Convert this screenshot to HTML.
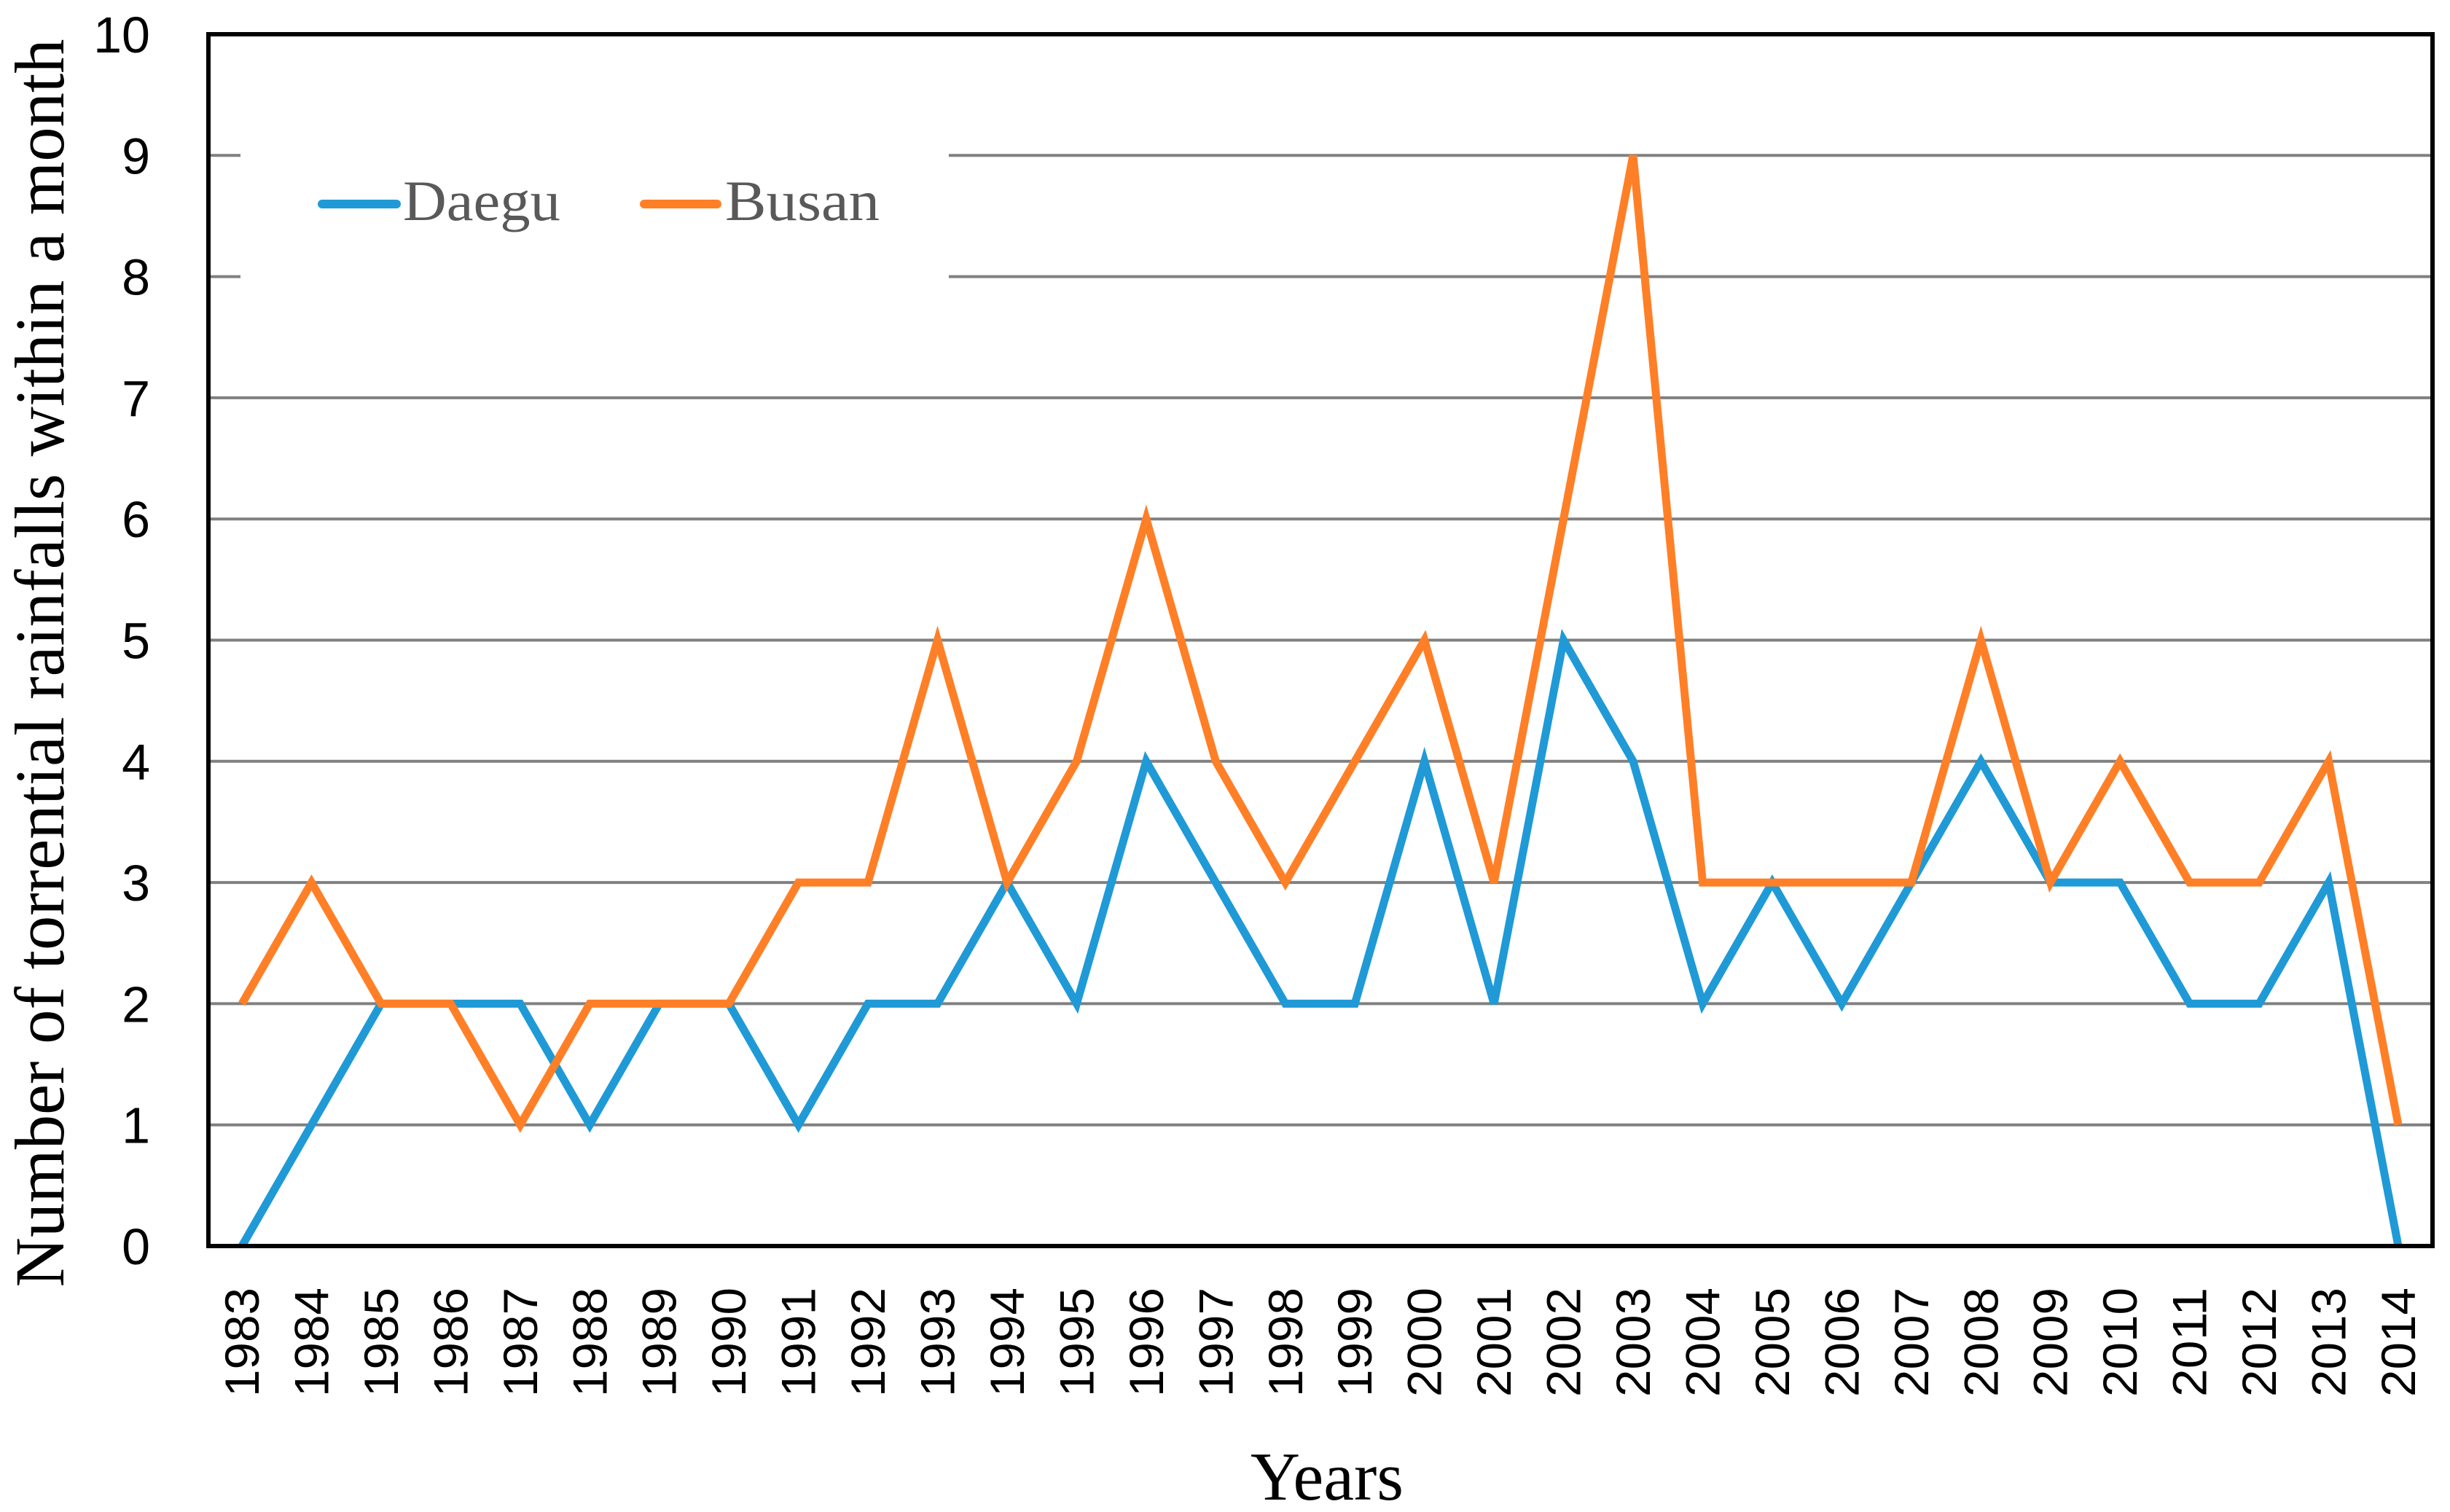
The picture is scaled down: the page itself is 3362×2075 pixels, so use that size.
<!DOCTYPE html>
<html><head><meta charset="utf-8"><style>
html,body{margin:0;padding:0;background:#fff;}
svg{display:block;}
</style></head><body>
<svg id="chart" width="3362" height="2075" viewBox="0 0 3362 2075" xmlns="http://www.w3.org/2000/svg">
<rect x="0" y="0" width="3362" height="2075" fill="#fff"/>
<g id="grid"></g>
<rect x="330" y="150" width="972" height="260" fill="#fff"/>
<g id="series"></g>
<rect x="286" y="47" width="3052" height="1663" fill="none" stroke="#000" stroke-width="6"/>
<g id="yticks"></g>
<g id="xticks"></g>
<text x="87" y="910" transform="rotate(-90 87 910)" text-anchor="middle" font-family="Liberation Serif, serif" font-size="96" textLength="1713" lengthAdjust="spacingAndGlyphs" fill="#000">Number of torrential rainfalls within a month</text>
<text x="1821" y="2058" text-anchor="middle" font-family="Liberation Serif, serif" font-size="94" textLength="210" lengthAdjust="spacingAndGlyphs" fill="#000">Years</text>
<g>
<g>
<line x1="442" y1="280" x2="544" y2="280" stroke="#1f9ad6" stroke-width="12" stroke-linecap="round"/>
<text x="553" y="302" font-family="Liberation Serif, serif" font-size="78" textLength="216" lengthAdjust="spacingAndGlyphs" fill="#595959">Daegu</text>
</g>
<g>
<line x1="884" y1="280" x2="984" y2="280" stroke="#ff7f27" stroke-width="12" stroke-linecap="round"/>
<text x="995" y="302" font-family="Liberation Serif, serif" font-size="78" textLength="212" lengthAdjust="spacingAndGlyphs" fill="#595959">Busan</text>
</g>
</g>
</svg>
<script>
const years = ['1983','1984','1985','1986','1987','1988','1989','1990','1991','1992','1993','1994','1995','1996','1997','1998','1999','2000','2001','2002','2003','2004','2005','2006','2007','2008','2009','2010','2011','2012','2013','2014'];
const daegu = [0,1,2,2,2,1,2,2,1,2,2,3,2,4,3,2,2,4,2,5,4,2,3,2,3,4,3,3,2,2,3,0];
const busan = [2,3,2,2,1,2,2,2,3,3,5,3,4,6,4,3,4,5,3,6,9,3,3,3,3,5,3,4,3,3,4,1];
const yTicks = [0,1,2,3,4,5,6,7,8,9,10];

const NS = 'http://www.w3.org/2000/svg';
const X0 = 332, X1 = 3291, Y0 = 1710, Y1 = 47, YMAX = 10;
function xPos(i){ return X0 + (X1 - X0) * i / (years.length - 1); }
function yPos(v){ return Y0 - (Y0 - Y1) * v / YMAX; }

const grid = document.getElementById('grid');
const yt = document.getElementById('yticks');
yTicks.forEach(v => {
  if (v > 0 && v < YMAX) {
    const l = document.createElementNS(NS, 'line');
    l.setAttribute('x1', 286); l.setAttribute('x2', 3338);
    l.setAttribute('y1', yPos(v)); l.setAttribute('y2', yPos(v));
    l.setAttribute('stroke', '#808080'); l.setAttribute('stroke-width', '4');
    
    
    grid.appendChild(l);
  }
  const t = document.createElementNS(NS, 'text');
  t.setAttribute('x', 206); t.setAttribute('y', yPos(v) + 25);
  t.setAttribute('text-anchor', 'end');
  t.setAttribute('font-family', 'Liberation Sans, sans-serif');
  t.setAttribute('font-size', '70');
  t.textContent = String(v);
  
  
  yt.appendChild(t);
});

const xt = document.getElementById('xticks');
years.forEach((y, i) => {
  const x = xPos(i) + 23;
  const t = document.createElementNS(NS, 'text');
  t.setAttribute('x', x); t.setAttribute('y', 1767);
  t.setAttribute('transform', 'rotate(-90 ' + x + ' 1767)');
  t.setAttribute('text-anchor', 'end');
  t.setAttribute('font-family', 'Liberation Sans, sans-serif');
  t.setAttribute('font-size', '66');
  t.setAttribute('textLength', '150');
  t.setAttribute('lengthAdjust', 'spacingAndGlyphs');
  t.textContent = y;
  
  
  xt.appendChild(t);
});

const sg = document.getElementById('series');
function drawLine(vals, color, name){
  const p = document.createElementNS(NS, 'polyline');
  p.setAttribute('points', vals.map((v, i) => xPos(i) + ',' + yPos(v)).join(' '));
  p.setAttribute('fill', 'none');
  p.setAttribute('stroke', color);
  p.setAttribute('stroke-width', '11');
  p.setAttribute('stroke-linejoin', 'miter');
  
  
  sg.appendChild(p);
}
drawLine(daegu, '#1f9ad6', 'daegu-line');
drawLine(busan, '#ff7f27', 'busan-line');
</script>
</body></html>
